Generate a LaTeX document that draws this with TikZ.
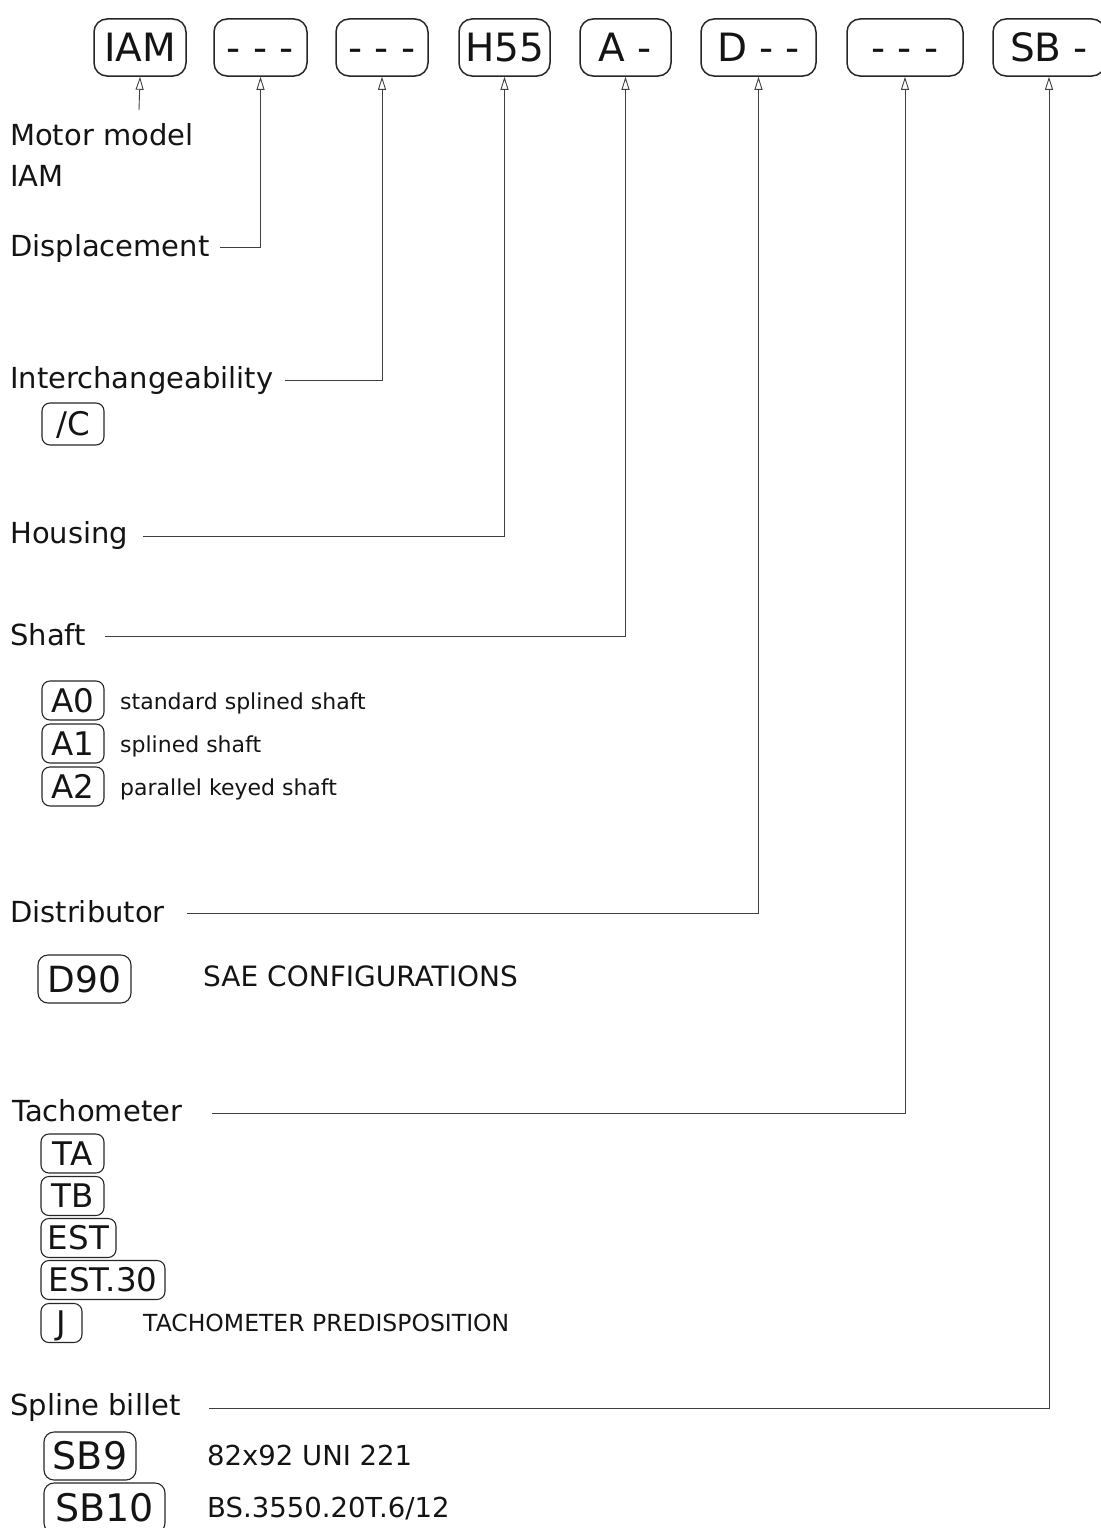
\documentclass[tikz,border=0pt]{standalone}
\usepackage{fontspec}
\setmainfont{DejaVu Sans}
\usetikzlibrary{arrows.meta}
\newcommand{\fsz}[1]{\fontsize{#1}{#1}\selectfont}
\tikzset{
  topbox/.style={draw=black!85, line width=1.5pt, rounded corners=13pt, minimum height=57pt, inner sep=0pt, text height=28pt, text depth=0pt, font=\fsz{39}, text=black!92},
  smallbox/.style={draw=black!85, line width=1.1pt, rounded corners=8pt, minimum height=39pt, inner sep=0pt, text height=23pt, text depth=0pt, font=\fsz{32.5}, text=black!92},
  bigbox/.style={draw=black!85, line width=1.1pt, rounded corners=10pt, minimum height=48pt, inner sep=0pt, text height=27pt, text depth=0pt, text=black!92},
  mainlab/.style={anchor=base west, inner sep=0pt, font=\fsz{29}, text=black!92},
  desc/.style={anchor=base west, inner sep=0pt, font=\fsz{22}, text=black!92},
  desc2/.style={anchor=base west, inner sep=0pt, font=\fsz{27.5}, text=black!92},
  conn/.style={draw=black!75, line width=0.9pt, -{Triangle[open, length=13pt, width=8pt]}},
}
\begin{document}
\begin{tikzpicture}[x=1pt, y=-1pt]
\useasboundingbox (0,0) rectangle (1100,1528);
% top code boxes
\node[topbox, minimum width=92pt]  (b1) at (140,47.5) {IAM};
\node[topbox, minimum width=93pt]  (b2) at (260.5,47.5) {- - -};
\node[topbox, minimum width=92pt]  (b3) at (382,47.5) {- - -};
\node[topbox, minimum width=91pt]  (b4) at (504.5,47.5) {H55};
\node[topbox, minimum width=91pt]  (b5) at (625.5,47.5) {A -};
\node[topbox, minimum width=115pt] (b6) at (758.5,47.5) {D - -};
\node[topbox, minimum width=116pt] (b7) at (905,47.5) {- - -};
\node[topbox, minimum width=112pt] (b8) at (1049,47.5) {SB -};
% labels
\node[mainlab] (l1) at (10,145) {Motor model};
\node[mainlab] (l1b) at (10,186) {IAM};
\node[mainlab] (l2) at (10,256) {Displacement};
\node[mainlab] (l3) at (10,388) {Interchangeability};
\node[mainlab] (l4) at (10,543) {Housing};
\node[mainlab] (l5) at (10,645) {Shaft};
\node[mainlab] (l6) at (10,922) {Distributor};
\node[mainlab] (l7) at (12,1121) {Tachometer};
\node[mainlab] (l8) at (10,1415) {Spline billet};
% connector start points
\coordinate (c1) at (139,110);
\coordinate (c2) at (220,247);
\coordinate (c3) at (285,380);
\coordinate (c4) at (143,536);
\coordinate (c5) at (105,636);
\coordinate (c6) at (187,913);
\coordinate (c7) at (212,1113);
\coordinate (c8) at (209,1408);
\draw[conn] (c1) -- (b1.south);
\draw[conn] (c2) -| (b2.south);
\draw[conn] (c3) -| (b3.south);
\draw[conn] (c4) -| (b4.south);
\draw[conn] (c5) -| (b5.south);
\draw[conn] (c6) -| (b6.south);
\draw[conn] (c7) -| (b7.south);
\draw[conn] (c8) -| (b8.south);
% options
\node[smallbox, minimum width=62pt, minimum height=42pt] (oc) at (73,424) {/C};
\node[smallbox, minimum width=62pt] (a0) at (73,700.5) {A0};
\node[smallbox, minimum width=62pt] (a1) at (73,743.5) {A1};
\node[smallbox, minimum width=62pt] (a2) at (73,786.5) {A2};
\node[desc] (da0) at (120,709) {standard splined shaft};
\node[desc] (da1) at (120,752) {splined shaft};
\node[desc] (da2) at (120,795) {parallel keyed shaft};
\node[bigbox, font=\fsz{36}, minimum width=93pt] (d90) at (84.5,979) {D90};
\node[desc2, font=\fsz{28}] (dd90) at (203,986) {SAE CONFIGURATIONS};
\node[smallbox, minimum width=63pt] (ta) at (72.5,1153.5) {TA};
\node[smallbox, minimum width=63pt] (tb) at (72.5,1196) {TB};
\node[smallbox, minimum width=75pt] (est) at (78.5,1238) {EST};
\node[smallbox, minimum width=124pt] (est30) at (103,1280) {EST.30};
\node[smallbox, minimum width=41pt] (tj) at (61.5,1323) {J};
\node[desc, font=\fsz{23.5}] (dtj) at (143,1331) {TACHOMETER PREDISPOSITION};
\node[bigbox, font=\fsz{38}, minimum width=92pt] (sb9) at (90,1456) {SB9};
\node[bigbox, font=\fsz{38}, minimum width=121pt, minimum height=50pt] (sb10) at (104.5,1508) {SB10};
\node[desc2] (dsb9) at (207,1465) {82x92 UNI 221};
\node[desc2] (dsb10) at (207,1517) {BS.3550.20T.6/12};
\end{tikzpicture}
\end{document}
